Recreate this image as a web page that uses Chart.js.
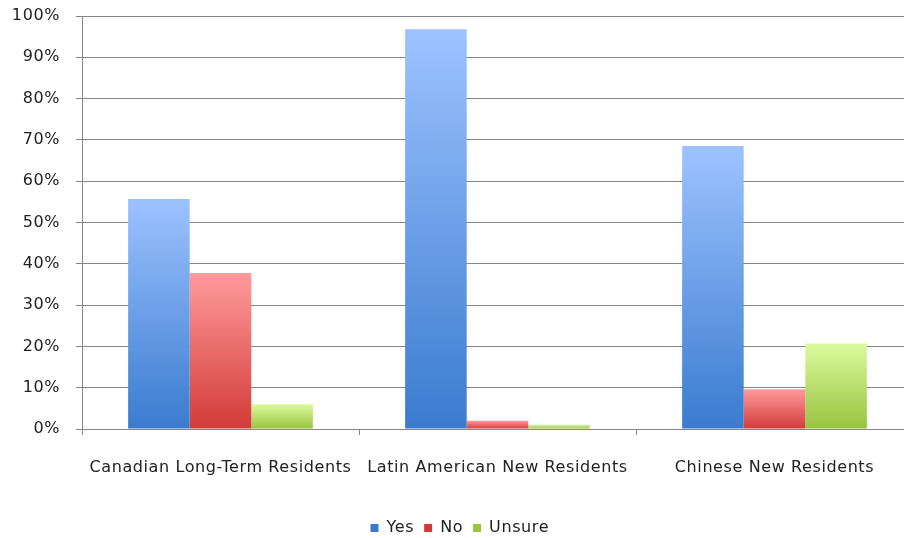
<!DOCTYPE html>
<html>
<head>
<meta charset="utf-8">
<script src="https://cdn.jsdelivr.net/npm/chart.js@4.4.0/dist/chart.umd.min.js"></script>
<style>
  html, body { margin: 0; padding: 0; background: #fff; overflow: hidden; }
  #wrap { width: 920px; height: 538px; }
</style>
</head>
<body>
<div id="wrap"><canvas id="chart-bars"></canvas></div>
<script>
const groups = ['Canadian Long-Term Residents', 'Latin American New Residents', 'Chinese New Residents'];
const yesValues = [55.7, 96.8, 68.5];
const noValues = [37.8, 2.0, 9.6];
const unsureValues = [6.0, 1.1, 20.7];
const yTicks = [0, 10, 20, 30, 40, 50, 60, 70, 80, 90, 100];

// light top -> darker bottom, per bar
function barFill(top, bottom) {
  return function (ctx) {
    const chart = ctx.chart;
    const area = chart.chartArea;
    if (!area || ctx.type !== 'data') return bottom;
    const y = chart.scales.y;
    const yTop = y.getPixelForValue(ctx.raw);
    const yBase = y.getPixelForValue(0);
    if (yBase - yTop < 1) return bottom;
    const g = chart.ctx.createLinearGradient(0, yTop, 0, yBase);
    g.addColorStop(0, top);
    g.addColorStop(1, bottom);
    return g;
  };
}

// slightly looser text spacing
const spacing = {
  id: 'spacing',
  beforeDraw(chart) { chart.ctx.letterSpacing = '0.6px'; }
};

const font = { family: 'DejaVu Sans', size: 16 };

window.onload = function () {
  new Chart(document.getElementById('chart-bars'), {
    type: 'bar',
    data: {
      labels: groups,
      datasets: [
        { label: 'Yes', data: yesValues, backgroundColor: barFill('#9dc3ff', '#3a7bcf') },
        { label: 'No', data: noValues, backgroundColor: barFill('#ff9b9b', '#d23b38') },
        { label: 'Unsure', data: unsureValues, backgroundColor: barFill('#dcfa9e', '#98c43e') }
      ]
    },
    plugins: [spacing],
    options: {
      responsive: true,
      maintainAspectRatio: false,
      animation: false,
      datasets: { bar: { categoryPercentage: 0.667, barPercentage: 1 } },
      layout: { padding: { top: 16, left: 0, right: 7, bottom: -8 } },
      scales: {
        x: {
          grid: { drawOnChartArea: false, color: '#868686', tickLength: 6 },
          border: { color: '#868686' },
          ticks: { color: '#222', font: font, padding: 23, maxRotation: 0, autoSkip: false },
          afterFit: function (s) { s.height = 81; }
        },
        y: {
          min: 0, max: 100,
          afterBuildTicks: function (s) { s.ticks = yTicks.map(v => ({ value: v })); },
          grid: { color: '#868686', tickLength: 6 },
          border: { color: '#868686' },
          ticks: { color: '#222', font: font, padding: 16, callback: v => v + '%' },
          afterFit: function (s) {
            s.width = 82;
            s.paddingTop = 0;
            s.paddingBottom = 0;
          }
        }
      },
      plugins: {
        tooltip: { enabled: false },
        legend: {
          position: 'bottom',
          labels: { color: '#222', font: font, boxWidth: 8, boxHeight: 8, padding: 10 }
        }
      }
    }
  });
};
</script>
</body>
</html>
